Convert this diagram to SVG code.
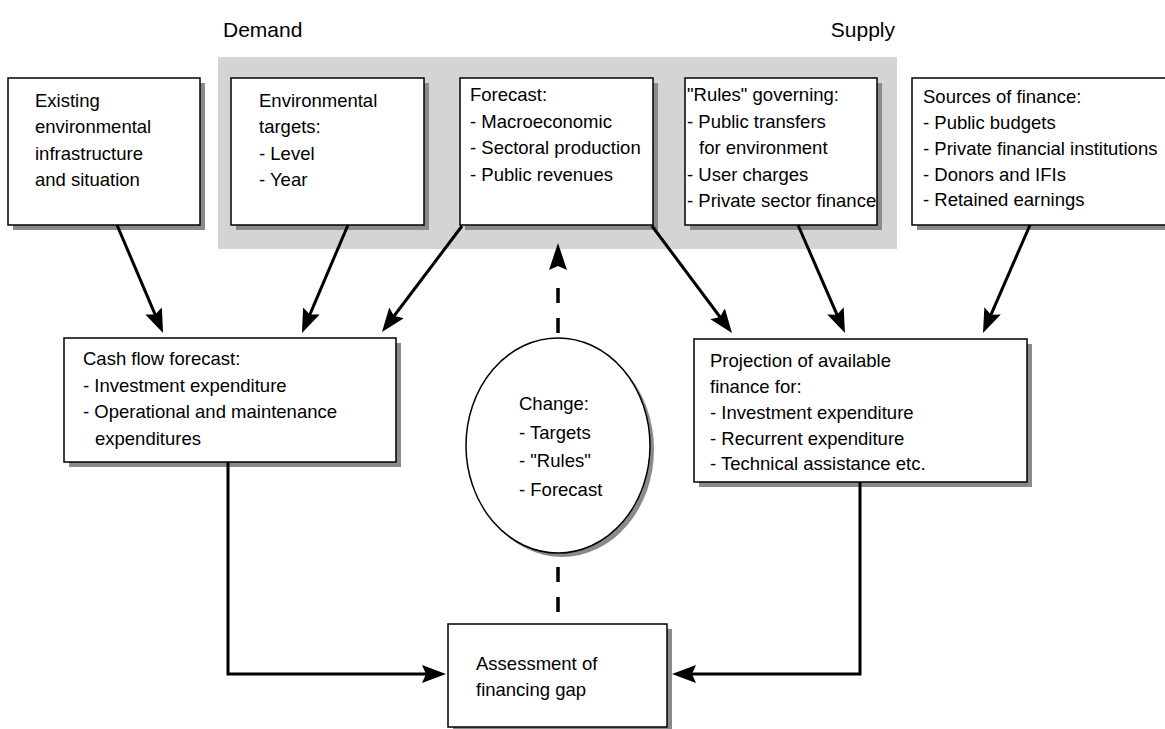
<svg xmlns="http://www.w3.org/2000/svg" width="1165" height="729" viewBox="0 0 1165 729">
<style>
text { font-family: "Liberation Sans", Arial, sans-serif; font-size: 18.5px; fill: #000; }
.head { font-size: 21px; }
.box { fill: #fff; stroke: #000; stroke-width: 1.5; }
.shadow { fill: #8a8a8a; }
.conn { fill: none; stroke: #000; stroke-width: 3; }
.dash { fill: none; stroke: #000; stroke-width: 3.5; stroke-dasharray: 15 15; }
</style>
<defs>
<marker id="ah" markerUnits="userSpaceOnUse" markerWidth="26" markerHeight="20" refX="14" refY="9" orient="auto">
<path d="M0,0 L24,9 L0,18 L4,9 z" fill="#000"/>
</marker>
</defs>
<rect width="1165" height="729" fill="#fff"/>

<rect id="bg-band" x="218" y="57" width="679" height="192" fill="#d4d4d4"/>
<text class="head" x="223" y="37">Demand</text>
<text class="head" x="895" y="37" text-anchor="end">Supply</text>

<g id="n-existing">
<rect class="shadow" x="13" y="83" width="192" height="147"/>
<rect class="box" x="8" y="78" width="192" height="147"/>
<text x="35" y="107">Existing</text>
<text x="35" y="133.3">environmental</text>
<text x="35" y="159.6">infrastructure</text>
<text x="35" y="186">and situation</text>
</g>

<g id="n-targets">
<rect class="shadow" x="236" y="83" width="193" height="147"/>
<rect class="box" x="231" y="78" width="193" height="147"/>
<text x="259" y="107">Environmental</text>
<text x="259" y="133.3">targets:</text>
<text x="259" y="159.6">- Level</text>
<text x="259" y="186">- Year</text>
</g>

<g id="n-forecast">
<rect class="shadow" x="465" y="83" width="193" height="147"/>
<rect class="box" x="460" y="78" width="193" height="147"/>
<text x="470" y="101">Forecast:</text>
<text x="470" y="127.5">- Macroeconomic</text>
<text x="470" y="154">- Sectoral production</text>
<text x="470" y="180.5">- Public revenues</text>
</g>

<g id="n-rules">
<rect class="shadow" x="690" y="83" width="192" height="147"/>
<rect class="box" x="685" y="78" width="192" height="147"/>
<text x="687" y="101">"Rules" governing:</text>
<text x="687" y="127.5">- Public transfers</text>
<text x="699" y="154">for environment</text>
<text x="687" y="180.5">- User charges</text>
<text x="687" y="207">- Private sector finance</text>
</g>

<g id="n-sources">
<rect class="shadow" x="917" y="83" width="260" height="147"/>
<rect class="box" x="912" y="78" width="260" height="147"/>
<text x="923" y="103">Sources of finance:</text>
<text x="923" y="129">- Public budgets</text>
<text x="923" y="155">- Private financial institutions</text>
<text x="923" y="180.5">- Donors and IFIs</text>
<text x="923" y="206">- Retained earnings</text>
</g>

<g id="n-cashflow">
<rect class="shadow" x="69" y="343" width="332" height="124"/>
<rect class="box" x="64" y="338" width="332" height="124"/>
<text x="83" y="365">Cash flow forecast:</text>
<text x="83" y="391.5">- Investment expenditure</text>
<text x="83" y="418">- Operational and maintenance</text>
<text x="95" y="444.5">expenditures</text>
</g>

<g id="n-projection">
<rect class="shadow" x="699" y="344" width="333" height="143"/>
<rect class="box" x="694" y="339" width="333" height="143"/>
<text x="710" y="367">Projection of available</text>
<text x="710" y="393">finance for:</text>
<text x="710" y="418.5">- Investment expenditure</text>
<text x="710" y="444.5">- Recurrent expenditure</text>
<text x="710" y="470">- Technical assistance etc.</text>
</g>

<g id="n-change">
<ellipse class="shadow" cx="562" cy="449.5" rx="92" ry="107.5"/>
<ellipse class="box" cx="558" cy="445.5" rx="92" ry="107.5" stroke-width="2"/>
<text x="519" y="410">Change:</text>
<text x="519" y="438.5">- Targets</text>
<text x="519" y="467">- "Rules"</text>
<text x="519" y="496">- Forecast</text>
</g>

<g id="n-assessment">
<rect class="shadow" x="453" y="629" width="219" height="103"/>
<rect class="box" x="448" y="624" width="219" height="103"/>
<text x="476" y="670">Assessment of</text>
<text x="476" y="696">financing gap</text>
</g>

<g id="connectors">
<line class="conn" x1="117" y1="225" x2="159.1" y2="323.8" marker-end="url(#ah)"/>
<line class="conn" x1="348" y1="225" x2="305.9" y2="323.8" marker-end="url(#ah)"/>
<line class="conn" x1="462" y1="226" x2="388" y2="324" marker-end="url(#ah)"/>
<line class="conn" x1="652" y1="226" x2="726" y2="325" marker-end="url(#ah)"/>
<line class="conn" x1="798" y1="225" x2="841" y2="323.8" marker-end="url(#ah)"/>
<line class="conn" x1="1030" y1="225" x2="987" y2="323.8" marker-end="url(#ah)"/>
<path class="conn" d="M228,462 V674 H436" marker-end="url(#ah)"/>
<path class="conn" d="M860,482 V674 H682" marker-end="url(#ah)"/>
<line class="dash" x1="558" y1="333" x2="558" y2="287"/>
<path d="M558,243 L567,270 L558,266 L549,270 z" fill="#000"/>
<line class="dash" x1="558" y1="567" x2="558" y2="613"/>
</g>
</svg>
